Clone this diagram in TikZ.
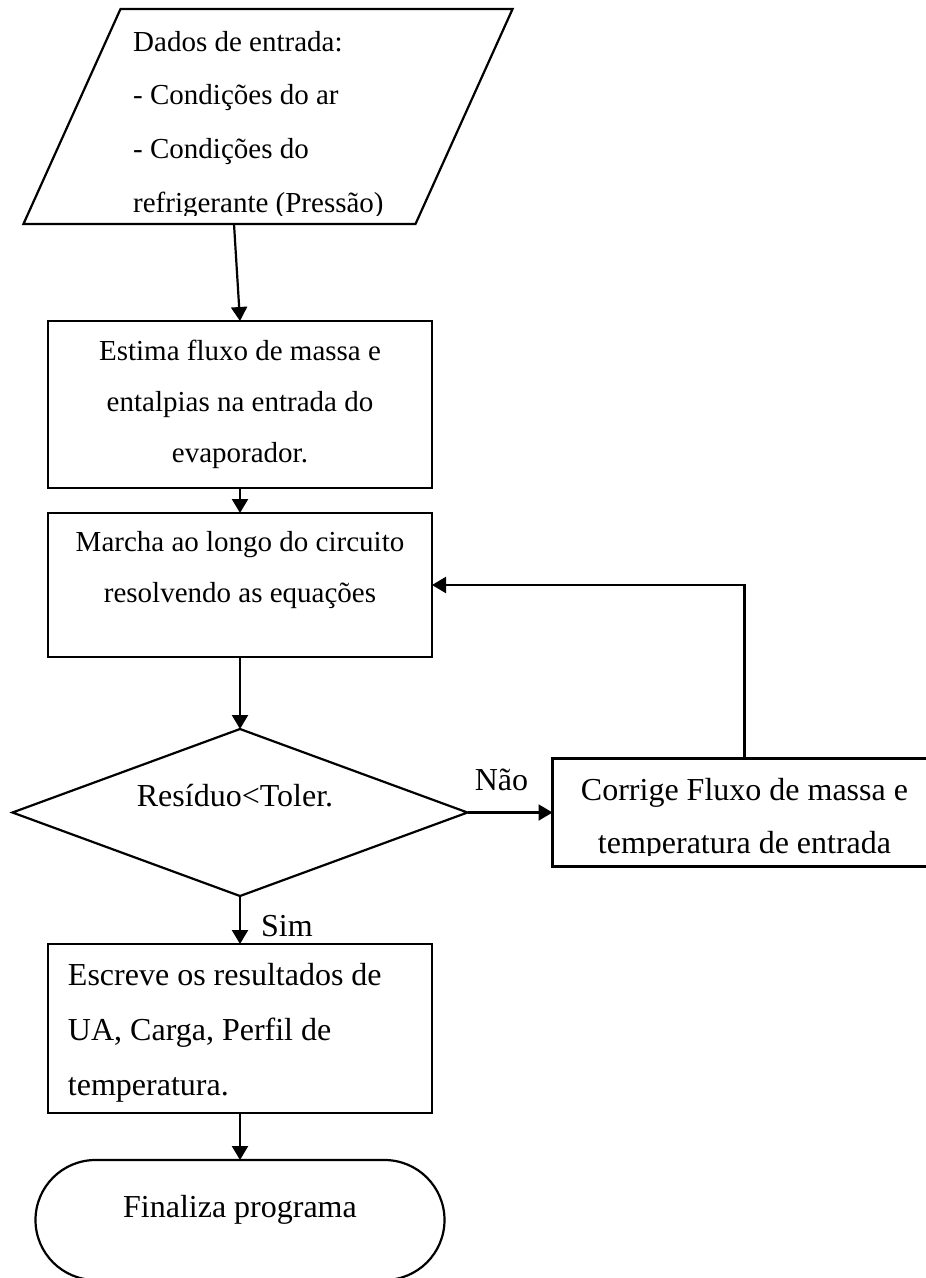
\documentclass[tikz,border=0pt]{standalone}
\usepackage{fontspec}
\setmainfont{Liberation Serif}
\usetikzlibrary{positioning, arrows.meta, shapes.geometric}

\tikzset{
  caixa/.style={draw, rectangle, inner sep=0pt, outer sep=0pt, line width=2.2pt},
  decisao/.style={draw, diamond, aspect=2.725, minimum width=455pt, minimum height=167pt,
                  inner sep=0pt, outer sep=0pt, line width=2.2pt},
  seta/.style={line width=2.2pt, -{Triangle[length=14pt, width=16pt]}},
  letra/.style={font=\fontsize{29}{#1}\selectfont},
  letragrande/.style={font=\fontsize{32}{#1}\selectfont},
}

\begin{document}
\begin{tikzpicture}[x=1pt, y=-1pt, letragrande=53]
  \useasboundingbox (0,0) rectangle (926,1278);

  % dados de entrada
  \node[draw, trapezium, trapezium left angle=65.7, trapezium right angle=114.3,
        inner xsep=147.5pt, inner ysep=107.5pt, outer sep=0pt, line width=2.2pt] (entrada) at (268,116.5) {};
  \begin{scope}
    \clip (0,0) rectangle (926,215);
    \node[anchor=north west, inner sep=0pt, letra=53.7] (entradatxt) at (133,21)
      {\parbox[t]{330pt}{\raggedright\rule{0pt}{30pt}Dados de entrada:\\- Condições do ar\\- Condições do\\refrigerante (Pressão)}};
  \end{scope}
  \coordinate (entradasai) at (234,224);

  \node[caixa, minimum width=384pt, minimum height=167pt, align=center, letra=51] (estima) at (240,404.5)
    {Estima fluxo de massa e\\entalpias na entrada do\\evaporador.};
  \node[caixa, below=25pt of estima, letra=51] (marcha)
    {\parbox[c][144pt][t]{384pt}{\centering\rule{0pt}{38pt}Marcha ao longo do circuito\\resolvendo as equações}};
  \node[decisao, below=72pt of marcha] (teste)
    {\makebox[0pt]{\hspace*{-10pt}\raisebox{6pt}[0pt][0pt]{Resíduo<Toler.}}};

  % correcao
  \node[caixa, right=85pt of teste, minimum width=384pt, minimum height=108pt] (corrige) {};
  \begin{scope}
    \clip (552,759) rectangle (936,855);
    \node[anchor=north, inner sep=0pt] (corrigetxt) at (corrige.north)
      {\parbox[t]{384pt}{\centering\rule{0pt}{42pt}Corrige Fluxo de massa e\\temperatura de entrada}};
  \end{scope}

  \node[caixa, below=48pt of teste, letragrande=55] (escreve)
    {\parbox[c][169pt][t]{384pt}{\raggedright\leftskip=20pt\rule{0pt}{41pt}Escreve os resultados de\\UA, Carga, Perfil de\\temperatura.}};
  \node[caixa, rounded corners=60pt, below=47pt of escreve] (fim)
    {\parbox[c][120pt][t]{409pt}{\centering\rule{0pt}{57pt}Finaliza programa}};

  % ligacoes
  \draw[seta] (entradasai) -- (estima.north);
  \draw[seta] (estima) -- (marcha);
  \draw[seta] (marcha) -- (teste);
  \draw[seta] (teste) -- node[pos=0.4, above=21pt, inner sep=0pt] {Não} (corrige);
  \draw[seta] (teste) -- node[pos=0.85, anchor=base west, xshift=20pt, inner sep=0pt] {Sim} (escreve);
  \draw[seta] (escreve) -- (fim);
  \draw[seta] (corrige.north) |- (marcha.east);
\end{tikzpicture}
\end{document}
